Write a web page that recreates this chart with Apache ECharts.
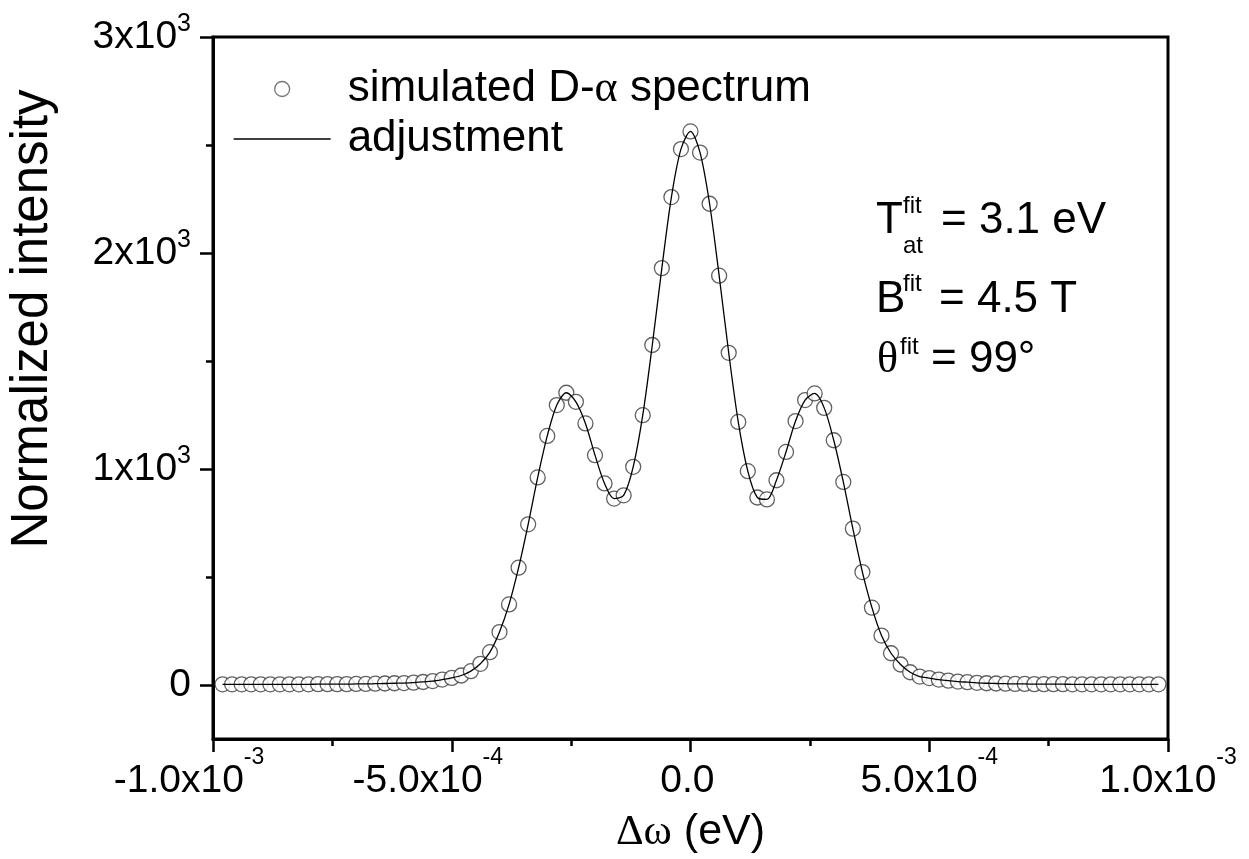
<!DOCTYPE html>
<html>
<head>
<meta charset="utf-8">
<script src="https://cdn.jsdelivr.net/npm/echarts@6/dist/echarts.min.js"></script>
<style>
html,body{margin:0;padding:0;background:#fff;}
#chart{width:1249px;height:859px;}
</style>
</head>
<body>
<div id="chart"></div>
<script>
// ---- data ----
const deltaOmega = [
 -0.00098,-0.00096,-0.00094,-0.00092,-0.0009,-0.00088,-0.00086,-0.00084,-0.00082,-0.0008,
 -0.00078,-0.00076,-0.00074,-0.00072,-0.0007,-0.00068,-0.00066,-0.00064,-0.00062,-0.0006,
 -0.00058,-0.00056,-0.00054,-0.00052,-0.0005,-0.00048,-0.00046,-0.00044,-0.00042,-0.0004,
 -0.00038,-0.00036,-0.00034,-0.00032,-0.0003,-0.00028,-0.00026,-0.00024,-0.00022,-0.0002,
 -0.00018,-0.00016,-0.00014,-0.00012,-0.0001,-0.00008,-0.00006,-0.00004,-0.00002,0,
 0.00002,0.00004,0.00006,0.00008,0.0001,0.00012,0.00014,0.00016,0.00018,0.0002,
 0.00022,0.00024,0.00026,0.00028,0.0003,0.00032,0.00034,0.00036,0.00038,0.0004,
 0.00042,0.00044,0.00046,0.00048,0.0005,0.00052,0.00054,0.00056,0.00058,0.0006,
 0.00062,0.00064,0.00066,0.00068,0.0007,0.00072,0.00074,0.00076,0.00078,0.0008,
 0.00082,0.00084,0.00086,0.00088,0.0009,0.00092,0.00094,0.00096,0.00098
];
const simulatedIntensity = [
 3,3,3,3,3,3,3,3,3,3,4,4,4,4,5,5,6,7,8,9,11,14,18,
 25,33,44,64,98,152,245,373,543,744,961,1153,1296,1353,1311,1211,1064,933,863,878,1010,1249,1574,1930,2259,2481,
 2563,
 2465,2228,1895,1538,1218,990,868,859,948,1079,1222,1319,1350,1283,1133,940,724,523,358,229,147,95,59,39,32,25,
 20,16,13,10,8,7,6,5,5,4,4,4,4,3,3,3,3,3,3,3,3,3,3
];
const fitIntensity = simulatedIntensity;
const xTickValues = [-0.001, -0.0005, 0, 0.0005, 0.001];
const xTickLabels = ['{b|-1.0x10}{s|-3}{pad| }', '{b|-5.0x10}{s|-4}{pad| }', '{b|0.0}{s| }', '{b|5.0x10}{s|-4}', '{b|1.0x10}{s|-3}'];
const xMinorTicks = [-0.00075, -0.00025, 0.00025, 0.00075];
const yTickValues = [0, 1000, 2000, 3000];
const yTickLabels = ['{b|0}', '{b|1x10}{s|3}', '{b|2x10}{s|3}', '{b|3x10}{s|3}'];
const yMinorTicks = [500, 1500, 2500];
const seriesNames = ['simulated D-α spectrum', 'adjustment'];

const FONT = 'Liberation Sans, Arial, sans-serif';
const SERIF = 'Liberation Serif, Times New Roman, serif';

function pair(xs, ys){ return xs.map((x,i)=>[x, ys[i]]); }
function lookup(vals, labels, v){
  for (let i=0;i<vals.length;i++){ if (Math.abs(vals[i]-v) < 1e-9 + Math.abs(vals[i])*1e-6) return labels[i]; }
  return '';
}

const chart = echarts.init(document.getElementById('chart'), null, {renderer:'canvas'});
const axisLineStyle = {color:'#000', width:3};

const option = {
  animation: false,
  backgroundColor: '#fff',
  textStyle: {fontFamily: FONT, color:'#000'},
  grid: {left:213, right:81, top:37, bottom:120, show:true, borderColor:'#000', borderWidth:3, containLabel:false},
  xAxis: [{
    type:'value', min:-0.001, max:0.001, interval:0.0005,
    axisLine:{show:true, onZero:false, lineStyle:axisLineStyle},
    axisTick:{show:true, customValues:xTickValues, length:13, lineStyle:{color:'#000', width:2.5}},
    splitLine:{show:false},
    axisLabel:{
      customValues:xTickValues, margin:7, color:'#000', fontFamily:FONT, fontSize:39,
      formatter:(v)=>lookup(xTickValues, xTickLabels, v),
      rich:{
        b:{fontSize:39, fontFamily:FONT, color:'#000', lineHeight:70, verticalAlign:'middle'},
        s:{fontSize:23, fontFamily:FONT, color:'#000', lineHeight:16, verticalAlign:'top'},
        pad:{width:48, fontSize:10, lineHeight:16}
      }
    },
    name:'{g|Δω} (eV)', nameLocation:'middle', nameGap:72,
    nameTextStyle:{fontSize:43, fontFamily:FONT, color:'#000',
      rich:{g:{fontSize:43, fontFamily:SERIF, color:'#000'}}}
  },{
    type:'value', min:-0.001, max:0.001, position:'bottom', gridIndex:0,
    axisLine:{show:false, onZero:false}, splitLine:{show:false}, axisLabel:{show:false},
    axisTick:{show:true, customValues:xMinorTicks, length:7, lineStyle:{color:'#000', width:2.5}}
  }],
  yAxis: [{
    type:'value', min:-250, max:3000,
    axisLine:{show:true, onZero:false, lineStyle:axisLineStyle},
    axisTick:{show:true, customValues:yTickValues, length:13, lineStyle:{color:'#000', width:2.5}},
    splitLine:{show:false},
    axisLabel:{
      customValues:yTickValues, margin:22, color:'#000', fontFamily:FONT, fontSize:39,
      formatter:(v)=>lookup(yTickValues, yTickLabels, v),
      rich:{
        b:{fontSize:39, fontFamily:FONT, color:'#000', lineHeight:50, verticalAlign:'middle'},
        s:{fontSize:25, fontFamily:FONT, color:'#000', lineHeight:18, verticalAlign:'top'}
      }
    }
  },{
    type:'value', min:-250, max:3000, position:'left', gridIndex:0,
    axisLine:{show:false, onZero:false}, splitLine:{show:false}, axisLabel:{show:false},
    axisTick:{show:true, customValues:yMinorTicks, length:7, lineStyle:{color:'#000', width:2.5}}
  }],
  legend: {
    orient:'vertical', left:228, top:62, itemWidth:97, itemHeight:15, itemGap:6,
    selectedMode:false,
    data:[
      {name:seriesNames[0], icon:'circle', itemStyle:{color:'#fff', borderColor:'#555', borderWidth:1.3}},
      {name:seriesNames[1], itemStyle:{color:'rgba(0,0,0,0)', borderColor:'rgba(0,0,0,0)', borderWidth:0}, lineStyle:{color:'#000', width:1.3}}
    ],
    formatter:(name)=> name===seriesNames[0] ? '{sp| }simulated D-{g|α} spectrum' : '{sp| }adjustment',
    textStyle:{fontSize:44, fontFamily:FONT, color:'#000',
      rich:{sp:{width:12, fontSize:10}, g:{fontSize:44, fontFamily:SERIF, color:'#000'}}}
  },
  graphic: [
    {type:'text', x:33, y:319, rotation:Math.PI/2, silent:true,
      style:{text:'Normalized intensity', font:'51px '+FONT, fill:'#000', align:'center', verticalAlign:'middle'}},
    {type:'text', x:876, y:221, silent:true, style:{text:'T', font:'44px '+FONT, fill:'#000', align:'left', verticalAlign:'middle'}},
    {type:'text', x:903, y:206, silent:true, style:{text:'fit', font:'24px '+FONT, fill:'#000', align:'left', verticalAlign:'middle'}},
    {type:'text', x:903, y:246, silent:true, style:{text:'at', font:'24px '+FONT, fill:'#000', align:'left', verticalAlign:'middle'}},
    {type:'text', x:941, y:221, silent:true, style:{text:'= 3.1 eV', font:'44px '+FONT, fill:'#000', align:'left', verticalAlign:'middle'}},
    {type:'text', x:876, y:300, silent:true, style:{text:'B', font:'44px '+FONT, fill:'#000', align:'left', verticalAlign:'middle'}},
    {type:'text', x:903, y:284, silent:true, style:{text:'fit', font:'24px '+FONT, fill:'#000', align:'left', verticalAlign:'middle'}},
    {type:'text', x:939, y:300, silent:true, style:{text:'= 4.5 T', font:'44px '+FONT, fill:'#000', align:'left', verticalAlign:'middle'}},
    {type:'text', x:877, y:360, silent:true, style:{text:'θ', font:'44px '+SERIF, fill:'#000', align:'left', verticalAlign:'middle'}},
    {type:'text', x:900, y:347, silent:true, style:{text:'fit', font:'24px '+FONT, fill:'#000', align:'left', verticalAlign:'middle'}},
    {type:'text', x:931, y:360, silent:true, style:{text:'= 99°', font:'44px '+FONT, fill:'#000', align:'left', verticalAlign:'middle'}}
  ],
  series: [
    {
      name:seriesNames[0], type:'scatter', xAxisIndex:0, yAxisIndex:0,
      data:pair(deltaOmega, simulatedIntensity),
      symbol:'circle', symbolSize:15, z:2, silent:true,
      itemStyle:{color:'#fff', borderColor:'#3a3a3a', borderWidth:1.3},
      emphasis:{disabled:true}
    },
    {
      name:seriesNames[1], type:'line', xAxisIndex:0, yAxisIndex:0,
      data:pair(deltaOmega, fitIntensity),
      symbol:'none', showSymbol:false, smooth:0.3, z:3, silent:true,
      lineStyle:{color:'#000', width:1.3},
      emphasis:{disabled:true}
    }
  ]
};
chart.setOption(option);
</script>
</body>
</html>
